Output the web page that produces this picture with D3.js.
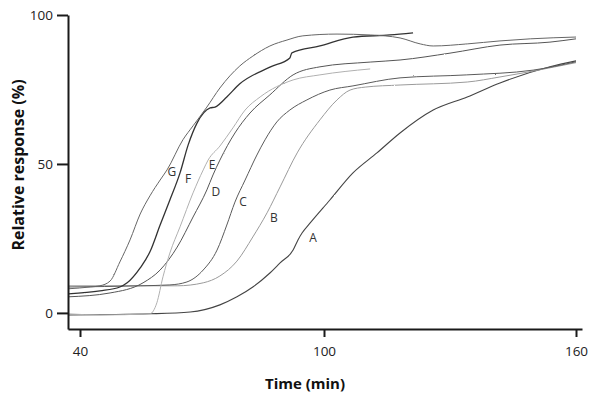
<!DOCTYPE html>
<html>
<head>
<meta charset="utf-8">
<script src="https://cdn.jsdelivr.net/npm/d3@7"></script>
<style>
  body { margin: 0; background: #fff; }
  text { font-family: 'Open Sans', 'Liberation Sans', sans-serif; }
</style>
</head>
<body>
<script>
let w = 602;
let h = 405;

// time (min) and relative response (%)
let tA = [37.1, 57.2, 67.1, 74.4, 78.6, 82.5, 86.7, 89.2, 92.4, 93.6, 94.6, 96.6, 101.4, 106.9, 112.6, 118.1, 126.0, 134.1, 141.9, 153.8, 160];
let rA = [-0.7, -0.3, 0.3, 2.7, 5.4, 8.7, 13.4, 16.8, 21.1, 24.5, 26.8, 30.2, 37.9, 47.0, 53.7, 60.4, 68.1, 72.5, 77.2, 82.6, 84.6];

let tB = [37.1, 63.9, 70.3, 74.4, 78.6, 82.5, 86.0, 89.2, 93.4, 99.0, 103.1, 106.2, 109.8, 118.1, 134.1, 141.9, 160];
let rB = [9.1, 9.1, 10.1, 12.4, 17.4, 25.5, 33.6, 42.3, 53.7, 64.8, 71.5, 74.8, 75.8, 76.5, 77.5, 79.2, 84.0];

let tC = [37.1, 54.8, 62.1, 66.3, 70.3, 73.7, 76.1, 78.1, 80.6, 83.5, 85.5, 88.4, 91.6, 95.8, 101.4, 106.9, 118.1, 134.0, 149.8, 160];
let rC = [8.7, 9.1, 9.4, 10.4, 14.4, 21.1, 29.5, 37.2, 44.6, 53.0, 58.1, 64.1, 68.1, 71.5, 74.8, 76.2, 78.9, 79.9, 81.5, 84.3];

let tD = [37.1, 47.4, 55.5, 59.7, 63.9, 67.8, 71.2, 72.7, 74.4, 78.1, 81.8, 86.7, 92.4, 99.0, 111.0, 118.1, 130.0, 141.9, 153.8, 160];
let rD = [5.4, 6.7, 10.1, 14.4, 22.1, 32.2, 41.3, 46.3, 51.3, 60.4, 67.1, 73.2, 79.9, 82.6, 84.2, 84.9, 87.2, 89.9, 90.9, 92.0];

let tE = [37.1, 44.9, 57.2, 58.9, 60.4, 62.1, 64.6, 67.8, 70.3, 71.5, 74.4, 77.6, 80.6, 84.3, 92.4, 99.0, 111.0];
let rE = [-0.3, -0.7, -0.3, 3.4, 12.1, 20.1, 28.9, 40.3, 48.0, 51.3, 56.0, 62.1, 68.1, 72.5, 78.2, 79.9, 81.9];

let tF = [37.1, 44.9, 49.8, 51.6, 54.8, 57.2, 59.7, 62.1, 64.6, 66.6, 68.8, 72.0, 73.2, 76.1, 79.3, 86.7, 91.6, 92.1, 99.0, 106.9, 115.7, 121.2];
let rF = [6.4, 7.4, 8.7, 10.1, 15.1, 20.5, 29.5, 37.9, 47.0, 56.4, 63.8, 68.8, 69.1, 72.5, 76.9, 82.5, 85.6, 87.3, 89.6, 92.6, 93.3, 94.0];

let tG = [37.1, 42.5, 44.9, 47.4, 49.8, 52.3, 54.8, 57.2, 59.7, 61.4, 65.3, 67.8, 71.2, 74.4, 79.3, 82.5, 86.7, 90.9, 94.8, 103.1, 111.0, 118.1, 122.9, 126.0, 134.1, 141.9, 149.1, 160];
let rG = [8.1, 8.7, 9.1, 10.7, 17.1, 24.5, 33.2, 39.3, 44.6, 48.0, 58.1, 62.8, 69.1, 75.5, 82.9, 86.2, 89.6, 91.6, 93.0, 93.6, 93.3, 92.3, 90.3, 89.6, 90.3, 91.3, 92.0, 92.6];

let seriesNames = ['A', 'B', 'C', 'D', 'E', 'F', 'G'];
let seriesTimes = [tA, tB, tC, tD, tE, tF, tG];
let seriesValues = [rA, rB, rC, rD, rE, rF, rG];
let seriesColors = ['#444', '#9a9a9a', '#5a5a5a', '#555', '#b0b0b0', '#333', '#666'];
let seriesWidths = [1.1, 1, 1, 1, 1, 1.3, 1];

// curve letters: time, response
let labelT = [97.3, 87.7, 80.1, 73.4, 72.5, 66.6, 62.6];
let labelR = [25.2, 31.9, 37.2, 40.6, 49.7, 45.0, 47.3];

let xTicks = [40, 100, 160];
let yTicks = [0, 50, 100];

let xScale = d3.scaleLinear()
  .domain([37, 40, 100, 160, 161.5])
  .range([68, 80, 324, 576, 582]);
let yScale = d3.scaleLinear()
  .domain([-5.4, 100])
  .range([329, 15]);

let svg = d3.select('body')
  .append('svg')
  .attr('width', w)
  .attr('height', h);

// slight roughness like the scanned traces
let filter = svg.append('defs')
  .append('filter')
  .attr('id', 'rough')
  .attr('x', '-5%').attr('y', '-5%')
  .attr('width', '110%').attr('height', '110%');
filter.append('feTurbulence')
  .attr('type', 'fractalNoise')
  .attr('baseFrequency', 0.9)
  .attr('numOctaves', 1)
  .attr('seed', 3)
  .attr('result', 'noise');
filter.append('feDisplacementMap')
  .attr('in', 'SourceGraphic')
  .attr('in2', 'noise')
  .attr('scale', 1.6)
  .attr('xChannelSelector', 'R')
  .attr('yChannelSelector', 'G');

let line = d3.line()
  .x((d) => { return xScale(d[0]); })
  .y((d) => { return yScale(d[1]); })
  .curve(d3.curveMonotoneX);

let series = seriesNames.map((name, i) => {
  return {
    name: name,
    points: seriesTimes[i].map((t, j) => { return [t, seriesValues[i][j]]; }),
    color: seriesColors[i],
    width: seriesWidths[i]
  };
});

svg.append('g')
  .attr('filter', 'url(#rough)')
  .selectAll('path')
  .data(series)
  .enter()
  .append('path')
  .attr('d', (d) => { return line(d.points); })
  .attr('fill', 'none')
  .attr('stroke', (d) => { return d.color; })
  .attr('stroke-width', (d) => { return d.width; });

svg.selectAll('text.letter')
  .data(seriesNames)
  .enter()
  .append('text')
  .attr('class', 'letter')
  .attr('x', (d, i) => { return xScale(labelT[i]); })
  .attr('y', (d, i) => { return yScale(labelR[i]); })
  .attr('text-anchor', 'middle')
  .attr('dy', '0.35em')
  .attr('font-size', '12px')
  .attr('fill', '#333')
  .text((d) => { return d; });

// axes
let xAxis = d3.axisBottom(xScale).tickValues(xTicks).tickSize(8).tickSizeOuter(0).tickPadding(9);
let yAxis = d3.axisLeft(yScale).tickValues(yTicks).tickSize(11).tickSizeOuter(0).tickPadding(4);

let gx = svg.append('g')
  .attr('transform', 'translate(0,329)')
  .call(xAxis);
let gy = svg.append('g')
  .attr('transform', 'translate(68,0)')
  .call(yAxis);

[gx, gy].forEach((g) => {
  g.select('.domain').attr('stroke', '#1a1a1a').attr('stroke-width', 2);
  g.selectAll('.tick line').attr('stroke', '#1a1a1a').attr('stroke-width', 2);
  g.selectAll('.tick text')
    .attr('font-family', "'Open Sans', sans-serif")
    .attr('font-size', '13.5px')
    .attr('fill', '#222');
});

svg.append('text')
  .attr('x', 305)
  .attr('y', 389)
  .attr('text-anchor', 'middle')
  .attr('font-size', '15px')
  .attr('font-weight', 'bold')
  .attr('fill', '#111')
  .text('Time (min)');

svg.append('text')
  .attr('transform', 'translate(24,165) rotate(-90)')
  .attr('text-anchor', 'middle')
  .attr('font-size', '16px')
  .attr('font-weight', 'bold')
  .attr('fill', '#111')
  .text('Relative response (%)');
</script>
</body>
</html>
